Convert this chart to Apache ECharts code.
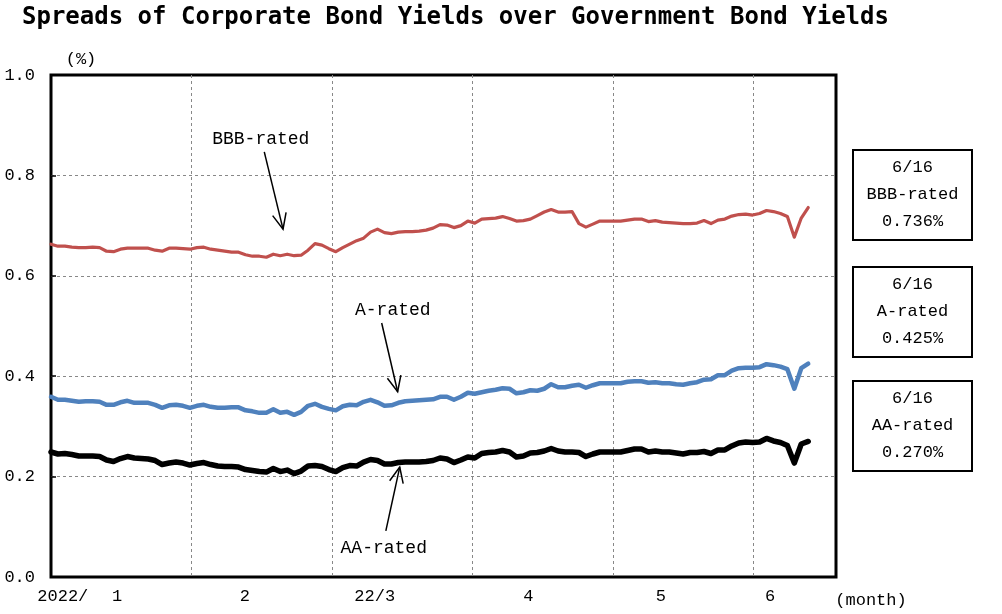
<!DOCTYPE html>
<html><head><meta charset="utf-8">
<script src="https://cdn.jsdelivr.net/npm/echarts@6/dist/echarts.min.js"></script>
<style>html,body{margin:0;padding:0;background:#fff}#c{width:1002px;height:614px}</style>
</head><body><div id="c"></div>
<script>
const titleText = 'Spreads of Corporate Bond Yields over Government Bond Yields';
const yUnit = '(%)';
const xUnit = '(month)';
const monthLabels = ['2022/', '1', '2', '22/3', '4', '5', '6'];
const monthLabelPos = [1.7, 9.5, 27.9, 46.6, 68.7, 87.8, 103.5];
const lastDate = '6/16';
const seriesNames = ['BBB-rated', 'A-rated', 'AA-rated'];

const bbb = [
 0.663,0.659,0.659,0.657,0.656,0.656,0.657,0.656,0.649,0.648,
 0.653,0.655,0.655,0.655,0.655,0.651,0.649,0.655,0.655,0.654,
 0.653,0.656,0.657,0.653,0.651,0.649,0.647,0.647,0.642,0.639,
 0.639,0.637,0.643,0.640,0.643,0.640,0.641,0.651,0.664,0.661,
 0.654,0.648,0.656,0.663,0.670,0.675,0.687,0.693,0.686,0.684,
 0.687,0.688,0.688,0.689,0.691,0.695,0.702,0.701,0.696,0.700,
 0.709,0.705,0.713,0.714,0.715,0.718,0.714,0.709,0.710,0.713,
 0.720,0.727,0.732,0.727,0.727,0.728,0.704,0.697,0.703,0.709,
 0.709,0.709,0.709,0.711,0.713,0.713,0.708,0.710,0.707,0.706,
 0.705,0.704,0.704,0.705,0.710,0.704,0.711,0.713,0.719,0.722,
 0.723,0.721,0.724,0.730,0.728,0.724,0.718,0.677,0.715,0.736
];
const aRated = [
 0.359,0.353,0.353,0.351,0.349,0.350,0.350,0.349,0.343,0.343,
 0.348,0.351,0.347,0.347,0.347,0.343,0.337,0.342,0.343,0.341,
 0.337,0.341,0.343,0.339,0.337,0.337,0.338,0.338,0.332,0.330,
 0.327,0.327,0.334,0.327,0.329,0.323,0.329,0.341,0.345,0.339,
 0.335,0.332,0.340,0.343,0.342,0.349,0.353,0.348,0.341,0.342,
 0.347,0.350,0.351,0.352,0.353,0.354,0.359,0.359,0.353,0.359,
 0.367,0.365,0.368,0.371,0.373,0.376,0.375,0.366,0.368,0.372,
 0.371,0.375,0.384,0.378,0.378,0.381,0.383,0.377,0.382,0.386,
 0.386,0.386,0.386,0.389,0.390,0.390,0.387,0.388,0.386,0.386,
 0.384,0.383,0.386,0.388,0.393,0.394,0.402,0.402,0.411,0.416,
 0.417,0.417,0.418,0.424,0.422,0.419,0.414,0.375,0.416,0.425
];
const aa = [
 0.249,0.245,0.246,0.244,0.241,0.241,0.241,0.240,0.233,0.230,
 0.236,0.240,0.237,0.236,0.235,0.232,0.224,0.227,0.229,0.227,
 0.223,0.226,0.228,0.224,0.221,0.220,0.220,0.219,0.214,0.212,
 0.210,0.209,0.216,0.210,0.213,0.206,0.211,0.221,0.222,0.220,
 0.214,0.210,0.218,0.222,0.221,0.229,0.234,0.232,0.225,0.225,
 0.228,0.229,0.229,0.229,0.230,0.232,0.237,0.235,0.228,0.233,
 0.239,0.237,0.246,0.248,0.249,0.252,0.249,0.239,0.241,0.247,
 0.248,0.251,0.256,0.251,0.249,0.249,0.248,0.240,0.245,0.249,
 0.249,0.249,0.249,0.252,0.255,0.255,0.249,0.251,0.249,0.249,
 0.247,0.245,0.248,0.248,0.250,0.246,0.253,0.253,0.261,0.267,
 0.269,0.268,0.269,0.276,0.271,0.268,0.262,0.227,0.265,0.270
];
const seriesData = [bbb, aRated, aa];
const seriesColors = ['#C0504D', '#4F81BD', '#000000'];
const seriesWidths = [3.2, 4.5, 5.5];

const MONO = '"Liberation Mono", "DejaVu Sans Mono", monospace';

const chart = echarts.init(document.getElementById('c'), null, {renderer: 'canvas'});

const gridLineStyle = {color: '#888', type: [3, 3], width: 1};
const option = {
  animation: false,
  backgroundColor: '#fff',
  title: {
    text: titleText, left: 22, top: 6, padding: 0,
    textStyle: {fontFamily: '"DejaVu Sans Mono", monospace', fontWeight: 'bold', fontSize: 24, color: '#000'}
  },
  grid: {left: 51, top: 75, width: 785, height: 502, show: true, borderColor: '#000', borderWidth: 3, backgroundColor: 'transparent'},
  xAxis: {
    type: 'value', min: 0, max: 113, interval: 20.22,
    axisLine: {show: false}, axisTick: {show: false},
    splitLine: {show: true, showMinLine: false, showMaxLine: false, lineStyle: gridLineStyle},
    axisLabel: {
      customValues: monthLabelPos, margin: 11, color: '#000', fontFamily: MONO, fontSize: 17,
      formatter: function (v) { const k = monthLabelPos.indexOf(v); return k >= 0 ? monthLabels[k] : ''; }
    }
  },
  yAxis: {
    type: 'value', min: 0, max: 1, interval: 0.2,
    axisLine: {show: false},
    axisTick: {show: true, inside: true, length: 5, lineStyle: {color: '#000', width: 1.5}},
    splitLine: {show: true, showMinLine: false, showMaxLine: false, lineStyle: gridLineStyle},
    axisLabel: {margin: 16, color: '#000', fontFamily: MONO, fontSize: 17, formatter: v => v.toFixed(1)}
  },
  series: seriesData.map((arr, k) => ({
    name: seriesNames[k], type: 'line', showSymbol: false, symbol: 'none',
    data: arr.map((v, i) => [i, v]),
    lineStyle: {color: seriesColors[k], width: seriesWidths[k], join: 'round', cap: 'round'},
    z: 3 + k
  }))
};
chart.setOption(option);

// annotations in data space (index, value)
const annotations = [
  {text: seriesNames[0], label: [30.2, 0.873], from: [30.7, 0.847], to: [33.4, 0.693]},
  {text: seriesNames[1], label: [49.2, 0.532], from: [47.6, 0.506], to: [49.9, 0.369]},
  {text: seriesNames[2], label: [47.9, 0.058], from: [48.2, 0.092], to: [50.2, 0.219]}
];
const px = p => chart.convertToPixel({gridIndex: 0}, p);
const graphics = [];
annotations.forEach(a => {
  const L = px(a.label), F = px(a.from), T = px(a.to);
  graphics.push({type: 'text', x: L[0], y: L[1], z: 20,
    style: {text: a.text, fill: '#000', font: '18px ' + MONO, textAlign: 'center', textVerticalAlign: 'middle'}});
  graphics.push({type: 'line', z: 20, shape: {x1: F[0], y1: F[1], x2: T[0], y2: T[1]}, style: {stroke: '#000', lineWidth: 1.5}});
  const dx = F[0] - T[0], dy = F[1] - T[1], len = Math.hypot(dx, dy);
  const ux = dx / len, uy = dy / len, ang = 24 * Math.PI / 180, wl = 17;
  const w1 = [T[0] + wl * (ux * Math.cos(ang) - uy * Math.sin(ang)), T[1] + wl * (ux * Math.sin(ang) + uy * Math.cos(ang))];
  const w2 = [T[0] + wl * (ux * Math.cos(-ang) - uy * Math.sin(-ang)), T[1] + wl * (ux * Math.sin(-ang) + uy * Math.cos(-ang))];
  graphics.push({type: 'polyline', z: 20, shape: {points: [w1, T, w2]}, style: {stroke: '#000', lineWidth: 1.5, fill: null}});
});

// value boxes at the right
const boxTops = [150, 267, 381];
seriesNames.forEach((name, k) => {
  const arr = seriesData[k];
  const last = arr[arr.length - 1];
  graphics.push({type: 'rect', z: 20, shape: {x: 853, y: boxTops[k], width: 119, height: 90},
    style: {fill: '#fff', stroke: '#000', lineWidth: 2}});
  graphics.push({type: 'text', z: 21, x: 912.5, y: boxTops[k] + 44,
    style: {text: lastDate + '\n' + name + '\n' + last.toFixed(3) + '%', fill: '#000', font: '17px ' + MONO,
      textAlign: 'center', textVerticalAlign: 'middle', lineHeight: 27}});
});
graphics.push({type: 'text', x: 81, y: 59, style: {text: yUnit, fill: '#000', font: '17px ' + MONO, textAlign: 'center', textVerticalAlign: 'middle'}});
graphics.push({type: 'text', x: 871, y: 600, style: {text: xUnit, fill: '#000', font: '17px ' + MONO, textAlign: 'center', textVerticalAlign: 'middle'}});
chart.setOption({graphic: graphics});
</script>
</body></html>
